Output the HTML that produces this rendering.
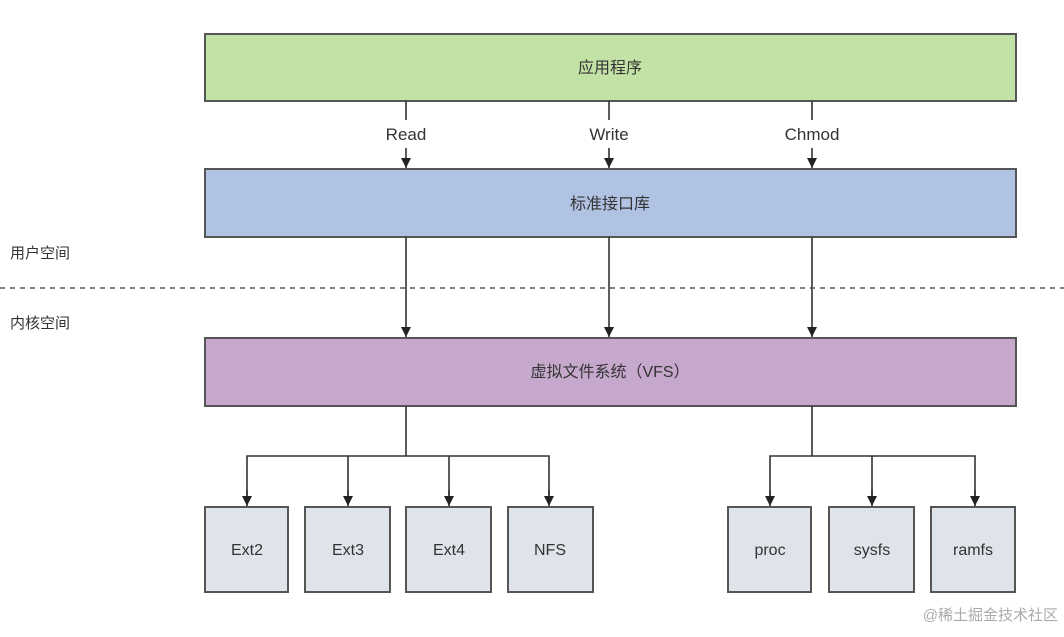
<!DOCTYPE html>
<html><head><meta charset="utf-8"><style>
body{margin:0;width:1064px;height:632px;background:#fff;overflow:hidden;font-family:"Liberation Sans","Noto Sans CJK SC",sans-serif;}
</style></head><body>
<svg width="1064" height="632" xmlns="http://www.w3.org/2000/svg" font-family="Liberation Sans, Noto Sans CJK SC, sans-serif">
<defs><marker id="a" markerWidth="10" markerHeight="10" refX="10" refY="5" orient="auto" markerUnits="userSpaceOnUse"><path d="M0,0 L10,5 L0,10 Z" fill="#222"/></marker></defs>
<g stroke="#555" stroke-width="2">
<rect x="205" y="34" width="811" height="67" fill="#c3e3a6"/>
<rect x="205" y="169" width="811" height="68" fill="#b0c3e3"/>
<rect x="205" y="338" width="811" height="68" fill="#c6a8cc"/>
<g fill="#dfe3ea">
<rect x="205" y="507" width="83" height="85"/><rect x="305" y="507" width="85" height="85"/>
<rect x="406" y="507" width="85" height="85"/><rect x="508" y="507" width="85" height="85"/>
<rect x="728" y="507" width="83" height="85"/><rect x="829" y="507" width="85" height="85"/>
<rect x="931" y="507" width="84" height="85"/></g>
</g>
<g stroke="#333" stroke-width="1.6" fill="none">
<line x1="406" y1="101" x2="406" y2="120"/><line x1="406" y1="148" x2="406" y2="168" marker-end="url(#a)"/>
<line x1="609" y1="101" x2="609" y2="120"/><line x1="609" y1="148" x2="609" y2="168" marker-end="url(#a)"/>
<line x1="812" y1="101" x2="812" y2="120"/><line x1="812" y1="148" x2="812" y2="168" marker-end="url(#a)"/>
<line x1="406" y1="237" x2="406" y2="337" marker-end="url(#a)"/>
<line x1="609" y1="237" x2="609" y2="337" marker-end="url(#a)"/>
<line x1="812" y1="237" x2="812" y2="337" marker-end="url(#a)"/>
<line x1="406" y1="406" x2="406" y2="456"/><polyline points="247,500 247,456 549,456 549,500"/>
<line x1="348" y1="456" x2="348" y2="500"/><line x1="449" y1="456" x2="449" y2="500"/>
<line x1="247" y1="490" x2="247" y2="506" marker-end="url(#a)"/><line x1="348" y1="490" x2="348" y2="506" marker-end="url(#a)"/>
<line x1="449" y1="490" x2="449" y2="506" marker-end="url(#a)"/><line x1="549" y1="490" x2="549" y2="506" marker-end="url(#a)"/>
<line x1="812" y1="406" x2="812" y2="456"/><polyline points="770,500 770,456 975,456 975,500"/>
<line x1="872" y1="456" x2="872" y2="500"/>
<line x1="770" y1="490" x2="770" y2="506" marker-end="url(#a)"/><line x1="872" y1="490" x2="872" y2="506" marker-end="url(#a)"/>
<line x1="975" y1="490" x2="975" y2="506" marker-end="url(#a)"/>
</g>
<line x1="0" y1="288" x2="1064" y2="288" stroke="#555" stroke-width="1.5" stroke-dasharray="5,5"/>
<g fill="#333" font-size="16" text-anchor="middle">
<text x="610" y="73">应用程序</text>
<text x="610" y="209">标准接口库</text>
<text x="610" y="377">虚拟文件系统（VFS）</text>
<text x="406" y="140" font-size="17">Read</text><text x="609" y="140" font-size="17">Write</text><text x="812" y="140" font-size="17">Chmod</text>
<text x="247" y="555">Ext2</text><text x="348" y="555">Ext3</text><text x="449" y="555">Ext4</text><text x="550" y="555">NFS</text>
<text x="770" y="555">proc</text><text x="872" y="555">sysfs</text><text x="973" y="555">ramfs</text>
</g>
<g fill="#333" font-size="15"><text x="10" y="258">用户空间</text><text x="10" y="328">内核空间</text></g>
<text x="1058" y="620" fill="#aaa" font-size="15" text-anchor="end">@稀土掘金技术社区</text>
</svg>
</body></html>
